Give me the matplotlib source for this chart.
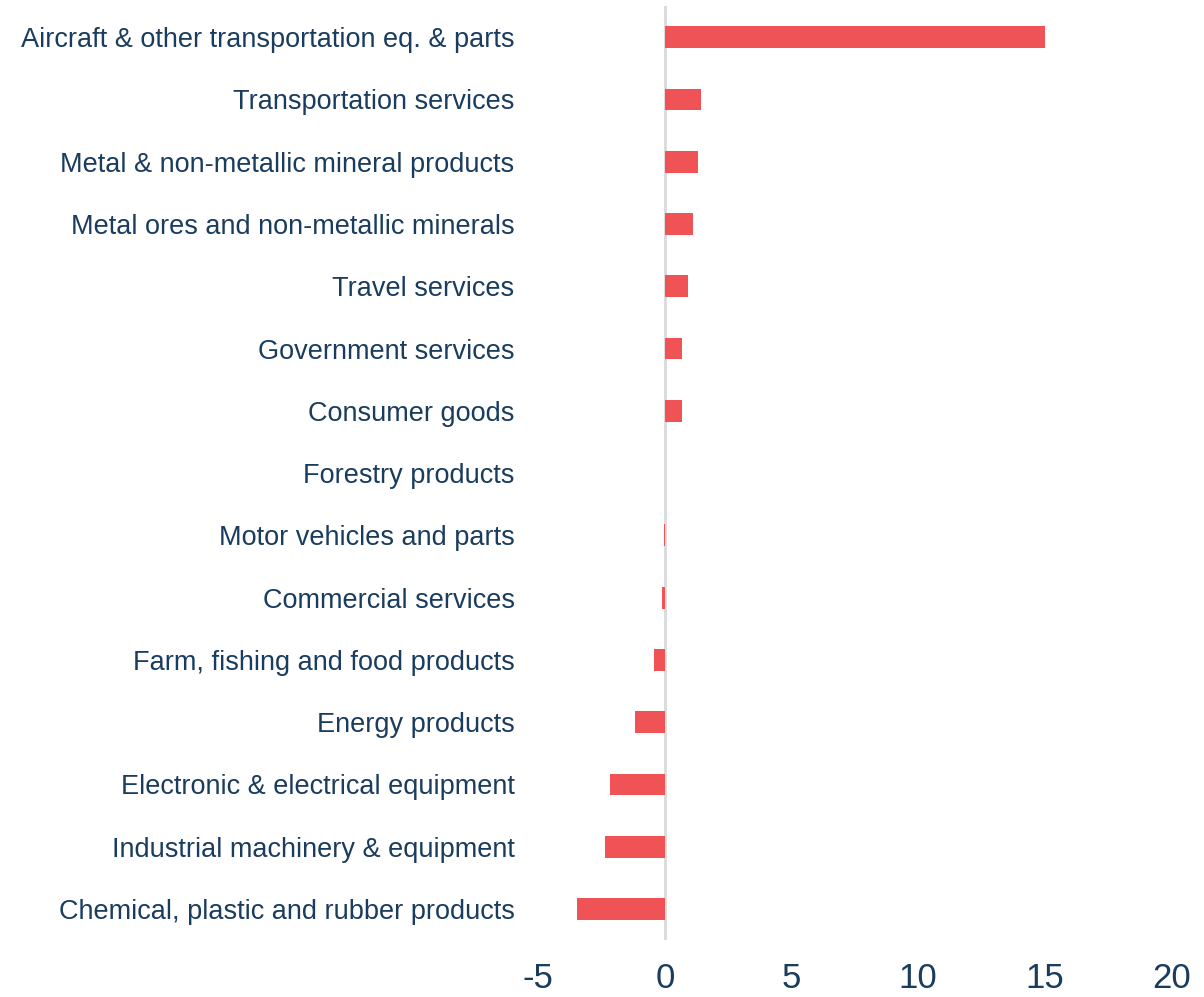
import matplotlib.pyplot as plt
import numpy as np

plt.rcParams['font.family'] = ['Liberation Sans', 'DejaVu Sans']

categories = [
    'Aircraft & other transportation eq. & parts',
    'Transportation services',
    'Metal & non-metallic mineral products',
    'Metal ores and non-metallic minerals',
    'Travel services',
    'Government services',
    'Consumer goods',
    'Forestry products',
    'Motor vehicles and parts',
    'Commercial services',
    'Farm, fishing and food products',
    'Energy products',
    'Electronic & electrical equipment',
    'Industrial machinery & equipment',
    'Chemical, plastic and rubber products',
]
values = [15.02, 1.42, 1.29, 1.10, 0.91, 0.68, 0.66, 0.02, -0.05, -0.13,
          -0.43, -1.16, -2.15, -2.35, -3.48]
xticks = [-5, 0, 5, 10, 15, 20]

text_color = '#1a3c5e'
bar_color = '#f05356'

fig = plt.figure(figsize=(12.04, 9.97), dpi=100)
ax = fig.add_axes([0.447, 0.057, 0.526, 0.937])

y = np.arange(len(categories))
ax.barh(y, values, height=0.35, color=bar_color)
ax.axvline(0, color='#d9d9d9', linewidth=2, zorder=0)

ax.set_ylim(len(categories) - 0.5, -0.5)
ax.set_xlim(-5, 20)
ax.set_yticks(y)
ax.set_yticklabels(categories, fontsize=19.5, color=text_color)
ax.set_xticks(xticks)
ax.set_xticklabels([str(t) for t in xticks], fontsize=25, color=text_color)
ax.tick_params(axis='y', length=0, pad=17)
ax.tick_params(axis='x', length=0, pad=16)
for s in ax.spines.values():
    s.set_visible(False)

fig.savefig('out.png', dpi=100)
